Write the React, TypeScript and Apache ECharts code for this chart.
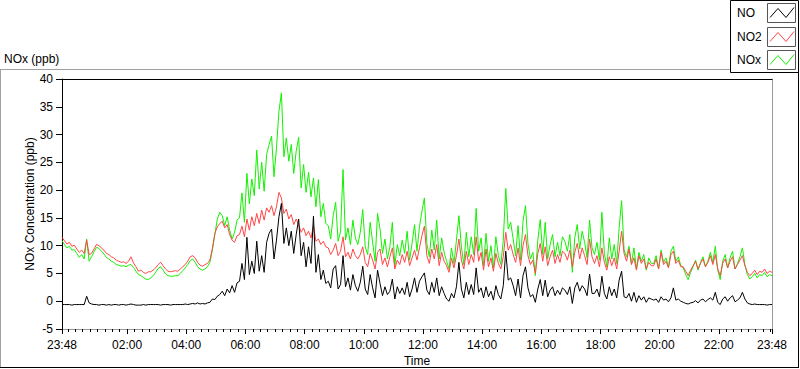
import React, { useEffect, useRef } from "react";
import * as echarts from "echarts";

// Time in minutes from midnight; the record runs from 23:48 (previous day) to 23:48.
const START_MIN = -12;
const STEP_MIN = 5;
const X_MIN = -12;
const X_MAX = 1428;

const MAJOR_TICKS = [-12, 120, 240, 360, 480, 600, 720, 840, 960, 1080, 1200, 1320, 1428];
const MINOR_TICK_MIN = 15;

const Y_MIN = -5;
const Y_MAX = 40;
const Y_STEP = 5;

const SERIES_NAMES = ["NO", "NO2", "NOx"];
const SERIES_COLORS = ["#000000", "#ff4646", "#14f000"];

// 5-minute samples, one row per hour (starting at HH:48)
const NO = [
  -0.6, -0.6, -0.6, -0.6, -0.7, -0.6, -0.6, -0.6, -0.6, -0.6, 0.9, -0.3,
  -0.5, -0.6, -0.6, -0.7, -0.6, -0.6, -0.7, -0.6, -0.7, -0.6, -0.6, -0.7,
  -0.6, -0.6, -0.7, -0.6, -0.5, -0.6, -0.7, -0.7, -0.7, -0.6, -0.7, -0.6,
  -0.6, -0.6, -0.6, -0.6, -0.7, -0.6, -0.6, -0.6, -0.7, -0.6, -0.6, -0.6,
  -0.6, -0.6, -0.5, -0.6, -0.5, -0.4, -0.5, -0.3, -0.5, -0.4, -0.5, -0.3,
  -0.2, 0.4, 0.3, 0.9, 1.2, 1.8, 1.0, 2.2, 1.5, 2.8, 1.6, 3.3,
  3.6, 6.8, 3.9, 11.5, 4.8, 7.2, 5.0, 10.8, 5.4, 8.2, 5.2, 10.6,
  12.2, 13.0, 7.6, 11.0, 15.2, 17.6, 10.4, 13.2, 10.0, 12.6, 8.6, 12.0,
  14.8, 8.2, 10.6, 6.2, 9.8, 6.8, 15.3, 5.2, 8.4, 3.9, 5.6, 3.2,
  3.6, 2.4, 5.8, 6.4, 2.2, 3.0, 8.2, 2.6, 4.2, 2.0, 4.8, 2.8,
  1.8, 3.4, 6.3, 2.2, 1.2, 4.8, 2.4, 0.6, 5.6, 3.2, 1.0, 2.6,
  1.2, 1.8, 4.0, 0.4, 2.6, 1.4, 2.4, 1.2, 3.4, 0.8, 2.2, 4.2,
  1.6, 3.6, 4.4, 5.1, 2.0, 1.2, 3.4, 1.6, 4.2, 1.0, 2.6, 1.4,
  0.4, 0.0, 1.4, 0.6, 2.6, 7.0, 2.2, 0.6, 3.4, 1.2, 3.0, 1.2,
  6.0, 1.6, 2.4, 0.6, 2.6, 0.8, 1.8, 0.2, 2.8, 1.2, 0.4, 2.8,
  9.0, 3.8, 4.2, 2.8, 1.0, 4.0, 0.6, 4.6, 6.2, 2.4, 0.8, 1.2,
  -0.2, 2.2, 3.9, 1.0, 3.8, 0.8, 2.0, 2.6, 1.0, 2.0, 1.2, 2.4,
  2.0, 1.2, 2.6, -0.4, 2.4, 3.4, 1.8, 2.8, 2.2, 1.0, 4.9, 1.4,
  1.4, 2.2, 0.8, 4.5, 1.4, 0.4, 2.6, 1.0, 2.2, 0.6, 3.8, 5.4,
  0.8, 0.6, 1.4, 0.0, 1.6, -0.2, 1.0, 0.2, 0.8, -0.2, 0.6, 0.4,
  0.2, 0.4, -0.2, 0.8, 0.2, 0.4, -0.1, 0.6, 2.4, 0.2, 0.4, 0.0,
  -0.2, -0.4, -0.5, -0.3, -0.2, 0.1, -0.3, 0.2, 0.4, -0.1, 0.3, 0.6,
  0.2, 1.6, -0.2, -0.6, 0.4, 0.8, 0.0, 0.6, 1.0, -0.1, 0.2, 0.6,
  1.6, 0.4, -0.3, -0.5, -0.6, -0.5, -0.6, -0.6, -0.6, -0.6, -0.7, -0.6,
  -0.6,
];

const NO2 = [
  11.5, 10.9, 10.3, 10.6, 9.9, 10.1, 9.4, 8.8, 9.2, 8.6, 11.0, 8.4,
  8.6, 9.4, 10.2, 10.0, 9.6, 9.2, 8.6, 8.4, 8.0, 7.8, 7.4, 7.2,
  7.0, 7.1, 6.8, 7.2, 8.0, 6.9, 6.2, 5.4, 5.6, 5.2, 5.0, 5.3,
  5.3, 5.6, 6.0, 6.6, 7.0, 6.4, 5.8, 5.4, 5.3, 5.4, 5.5, 5.4,
  5.8, 6.2, 6.6, 7.2, 8.0, 8.2, 7.8, 7.0, 6.5, 6.3, 6.6, 6.8,
  7.4, 9.5, 12.2, 13.4, 14.0, 14.4, 13.2, 13.8, 12.0, 11.0, 10.6, 11.8,
  12.0, 13.5, 11.6, 14.8, 12.8, 15.2, 13.6, 15.8, 14.0, 16.4, 14.6, 16.8,
  16.0, 17.2, 15.4, 17.0, 19.6, 18.6, 15.8, 16.6, 14.8, 15.6, 13.8, 14.8,
  13.8, 12.4, 13.2, 11.8, 12.6, 11.4, 13.6, 10.8, 11.2, 10.2, 10.8, 9.8,
  9.6, 8.4, 9.2, 10.4, 8.2, 9.0, 11.6, 8.0, 8.8, 7.6, 9.4, 8.2,
  7.6, 8.4, 9.8, 7.0, 6.2, 8.6, 7.4, 5.8, 8.8, 9.4, 6.6, 7.8,
  6.2, 8.0, 9.6, 5.8, 7.4, 6.6, 8.4, 7.0, 9.0, 6.4, 7.8, 9.2,
  7.4, 9.6, 11.8, 13.5, 8.2, 6.8, 9.4, 7.6, 10.2, 6.4, 8.8, 7.2,
  6.4, 5.2, 7.8, 6.0, 8.2, 11.2, 7.4, 5.8, 9.0, 6.6, 8.4, 7.0,
  11.6, 7.2, 8.8, 5.6, 9.4, 6.2, 7.8, 5.4, 8.6, 6.8, 5.8, 8.0,
  12.4, 9.2, 10.2, 8.4, 7.0, 9.6, 6.4, 10.0, 12.0, 8.2, 6.6, 7.4,
  5.0, 8.6, 10.4, 7.2, 9.8, 6.4, 8.0, 9.2, 6.8, 8.4, 7.0, 9.0,
  8.6, 7.4, 9.2, 6.2, 8.8, 10.4, 7.6, 9.6, 8.2, 6.6, 11.2, 8.0,
  6.8, 8.2, 6.2, 9.6, 7.0, 5.6, 8.0, 6.4, 7.8, 5.8, 9.0, 12.6,
  8.6, 7.2, 9.4, 6.6, 7.8, 5.6, 8.2, 6.8, 7.6, 5.8, 7.0, 6.4,
  6.4, 7.6, 5.8, 8.8, 6.6, 7.2, 6.0, 8.4, 9.0, 6.8, 7.4, 6.2,
  6.2, 5.4, 4.6, 5.6, 6.4, 7.2, 5.8, 6.8, 7.6, 6.2, 7.0, 8.2,
  6.6, 8.4, 5.8, 4.6, 6.8, 7.6, 6.0, 7.2, 8.0, 5.8, 6.6, 7.4,
  8.2, 6.4, 5.2, 4.6, 5.0, 5.6, 4.8, 5.4, 5.2, 5.8, 5.0, 5.4,
  5.2,
];

const NOX = [
  10.9, 10.2, 9.6, 9.9, 9.2, 9.3, 8.6, 7.9, 8.4, 7.6, 11.2, 7.2,
  8.0, 8.9, 9.7, 9.5, 9.0, 8.5, 7.9, 7.6, 7.2, 7.0, 6.6, 6.5,
  6.3, 6.4, 6.2, 6.5, 6.6, 6.1, 5.4, 4.8, 4.6, 4.3, 4.0, 3.9,
  4.2, 4.6, 5.2, 5.9, 6.2, 5.6, 4.9, 4.6, 4.5, 4.5, 4.6, 4.6,
  5.0, 5.5, 6.0, 6.6, 7.3, 7.6, 7.0, 6.2, 5.8, 5.6, 5.8, 6.2,
  7.0, 9.2, 12.0, 14.8, 16.0, 15.4, 13.6, 15.2, 12.8, 11.2, 12.4, 14.6,
  15.0, 19.5, 14.2, 23.0, 17.5, 22.0, 19.0, 27.2, 20.2, 25.0, 19.8, 26.4,
  28.2, 29.7, 22.4, 27.6, 34.2, 37.5, 26.0, 29.4, 25.2, 28.2, 23.0, 27.0,
  29.5, 20.4, 24.6, 19.6, 23.2, 18.8, 22.2, 17.0, 21.9, 15.2, 17.6, 14.0,
  13.6, 11.2, 15.4, 17.8, 10.8, 12.6, 23.7, 11.0, 13.2, 10.2, 14.6, 11.4,
  10.2, 12.4, 16.5, 9.8, 8.4, 14.2, 10.6, 7.2, 15.8, 13.0, 8.6, 11.2,
  7.6, 9.8, 14.2, 6.4, 10.2, 8.2, 11.0, 8.6, 12.6, 7.4, 10.4, 13.8,
  9.0, 13.4, 16.2, 18.6, 10.4, 8.0, 12.8, 9.2, 14.6, 7.6, 11.4, 8.8,
  7.2, 5.8, 9.6, 6.8, 11.0, 15.4, 9.8, 6.6, 12.4, 8.0, 11.6, 8.4,
  16.7, 9.0, 11.4, 6.4, 12.2, 7.2, 10.0, 6.0, 11.6, 8.2, 6.6, 11.0,
  20.3, 13.0, 14.2, 11.2, 8.2, 13.6, 7.4, 14.4, 17.2, 10.4, 7.6, 8.8,
  4.6, 11.0, 14.7, 8.4, 14.2, 7.6, 10.2, 12.0, 8.0, 10.6, 8.2, 11.6,
  10.8, 9.0, 12.0, 5.2, 11.4, 13.8, 9.4, 12.6, 10.6, 7.8, 14.6, 9.6,
  8.4, 10.6, 7.4, 16.0, 8.6, 6.2, 11.4, 7.6, 10.2, 6.8, 13.2, 18.1,
  9.2, 8.0, 9.9, 6.8, 9.6, 5.8, 8.8, 7.2, 8.4, 5.6, 7.8, 6.8,
  6.8, 8.2, 5.8, 9.2, 7.0, 7.8, 6.2, 9.0, 9.9, 7.2, 8.0, 6.4,
  6.0, 4.8, 3.9, 5.2, 6.2, 7.4, 5.6, 7.0, 8.0, 6.2, 7.2, 8.8,
  7.0, 9.9, 5.6, 3.9, 7.2, 8.4, 6.0, 7.8, 9.0, 5.8, 6.8, 8.0,
  9.6, 6.6, 4.8, 4.0, 4.4, 5.0, 4.2, 4.8, 4.6, 5.2, 4.4, 4.8,
  4.6,
];

const FONT = '"Liberation Sans", Arial, sans-serif';

function fmtTime(m: number): string {
  const mm = ((Math.round(m) % 1440) + 1440) % 1440;
  const h = Math.floor(mm / 60);
  const mi = mm % 60;
  return String(h).padStart(2, "0") + ":" + String(mi).padStart(2, "0");
}

function toPairs(values: number[]): number[][] {
  return values.map((v, i) => [START_MIN + i * STEP_MIN, v]);
}

function minorTicks(): number[] {
  const out: number[] = [];
  for (let m = 0; m <= X_MAX; m += MINOR_TICK_MIN) out.push(m);
  return out;
}

function legendGraphics(): any[] {
  const items: any[] = [];
  items.push({
    type: "rect",
    shape: { x: 730.5, y: 0.5, width: 68, height: 72 },
    style: { fill: "#ffffff", stroke: "#000000", lineWidth: 1 },
    z: 10,
  });
  const rows = [3.5, 27.5, 50.5];
  SERIES_NAMES.forEach((name, k) => {
    const by = rows[k];
    items.push({
      type: "text",
      x: 737,
      y: by + 9.5,
      style: {
        text: name,
        fill: "#000000",
        font: "12px " + FONT,
        textVerticalAlign: "middle",
        textAlign: "left",
      },
      z: 11,
    });
    items.push({
      type: "rect",
      shape: { x: 767.5, y: by, width: 28, height: 19 },
      style: { fill: "#ffffff", stroke: "#555555", lineWidth: 1 },
      z: 11,
    });
    items.push({
      type: "polyline",
      shape: {
        points: [
          [770, by + 14],
          [778, by + 5],
          [786, by + 14],
          [794, by + 4],
        ],
      },
      style: { stroke: SERIES_COLORS[k], lineWidth: 1, fill: null },
      z: 12,
    });
  });
  return items;
}

export default function App() {
  const ref = useRef<HTMLDivElement>(null);

  useEffect(() => {
    if (!ref.current) return;
    const chart = echarts.init(ref.current, undefined, { renderer: "svg" });
    const axisText = { color: "#000000", fontFamily: FONT, fontSize: 12 };

    const option: any = {
      animation: false,
      backgroundColor: "#ffffff",
      grid: {
        left: 62,
        top: 79,
        width: 710,
        height: 250,
        show: false,
        containLabel: false,
        outerBoundsMode: "none",
      },
      xAxis: [
        {
          type: "value",
          min: X_MIN,
          max: X_MAX,
          position: "bottom",
          axisLine: { show: true, onZero: false, lineStyle: { color: "#9a9a9a", width: 1 } },
          axisTick: { show: true, customValues: MAJOR_TICKS, length: 5, lineStyle: { color: "#000000" } },
          axisLabel: {
            show: true,
            customValues: MAJOR_TICKS,
            formatter: (v: number) => fmtTime(v),
            margin: 10,
            ...axisText,
          },
          splitLine: { show: false },
          name: "Time",
          nameLocation: "middle",
          nameGap: 26,
          nameMoveOverlap: false,
          nameTextStyle: { ...axisText, verticalAlign: "top" },
        },
        {
          type: "value",
          min: X_MIN,
          max: X_MAX,
          position: "bottom",
          axisLine: { show: false, onZero: false },
          axisTick: { show: true, customValues: minorTicks(), length: 3, lineStyle: { color: "#000000" } },
          axisLabel: { show: false },
          splitLine: { show: false },
        },
        {
          type: "value",
          min: X_MIN,
          max: X_MAX,
          position: "top",
          axisLine: { show: true, onZero: false, lineStyle: { color: "#000000" } },
          axisTick: { show: false },
          axisLabel: { show: false },
          splitLine: { show: false },
        },
      ],
      yAxis: [
        {
          type: "value",
          min: Y_MIN,
          max: Y_MAX,
          interval: Y_STEP,
          position: "left",
          axisLine: { show: true, onZero: false, lineStyle: { color: "#000000" } },
          axisTick: { show: true, length: 6, lineStyle: { color: "#000000" } },
          axisLabel: { margin: 9, ...axisText },
          splitLine: { show: false },
          name: "NOx Concentration (ppb)",
          nameLocation: "middle",
          nameRotate: 90,
          nameGap: 26,
          nameMoveOverlap: false,
          nameTextStyle: { ...axisText },
        },
        {
          type: "value",
          min: Y_MIN,
          max: Y_MAX,
          interval: Y_STEP,
          position: "right",
          axisLine: { show: true, onZero: false, lineStyle: { color: "#9a9a9a" } },
          axisTick: { show: false },
          axisLabel: { show: false },
          splitLine: { show: false },
        },
      ],
      series: [
        {
          name: "NOx",
          type: "line",
          data: toPairs(NOX),
          xAxisIndex: 0,
          yAxisIndex: 0,
          showSymbol: false,
          symbol: "none",
          lineStyle: { color: SERIES_COLORS[2], width: 1 },
          z: 2,
        },
        {
          name: "NO2",
          type: "line",
          data: toPairs(NO2),
          xAxisIndex: 0,
          yAxisIndex: 0,
          showSymbol: false,
          symbol: "none",
          lineStyle: { color: SERIES_COLORS[1], width: 1 },
          z: 3,
        },
        {
          name: "NO",
          type: "line",
          data: toPairs(NO),
          xAxisIndex: 0,
          yAxisIndex: 0,
          showSymbol: false,
          symbol: "none",
          lineStyle: { color: SERIES_COLORS[0], width: 1 },
          z: 4,
        },
      ],
      graphic: [
        {
          type: "text",
          x: 4,
          y: 59,
          style: {
            text: "NOx (ppb)",
            fill: "#000000",
            font: "12px " + FONT,
            textVerticalAlign: "middle",
          },
        },
        { type: "line", shape: { x1: 0, y1: 69.5, x2: 731, y2: 69.5 }, style: { stroke: "#a0a0a0", lineWidth: 1 } },
        { type: "line", shape: { x1: 0.5, y1: 69.5, x2: 0.5, y2: 367.5 }, style: { stroke: "#a0a0a0", lineWidth: 1 } },
        { type: "line", shape: { x1: 0, y1: 367.5, x2: 799, y2: 367.5 }, style: { stroke: "#000000", lineWidth: 1 } },
        { type: "line", shape: { x1: 798.5, y1: 72, x2: 798.5, y2: 368 }, style: { stroke: "#000000", lineWidth: 1 } },
        ...legendGraphics(),
      ],
    };

    chart.setOption(option);
    return () => chart.dispose();
  }, []);

  return (
    <div
      ref={ref}
      style={{ position: "absolute", left: 0, top: 0, width: 800, height: 369 }}
    />
  );
}
